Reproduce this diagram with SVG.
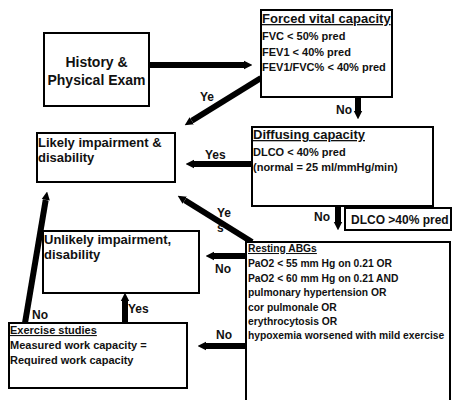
<svg xmlns="http://www.w3.org/2000/svg" width="453" height="400" viewBox="0 0 453 400">
<style>
.box{fill:#fff;stroke:#000;stroke-width:2}
text{font-family:"Liberation Sans",Arial,sans-serif;font-weight:bold;fill:#111}
.t13{font-size:13px}
.t14{font-size:14px}
.t11{font-size:11px}
.t10{font-size:10.3px}
.t12{font-size:12px}
.u{text-decoration:underline}
.lbl{font-size:12px}
.arr{stroke:#000;stroke-width:6;fill:none;marker-end:url(#ah)}
</style>
<defs>
<marker id="ah" viewBox="0 0 10 10" refX="0" refY="5" markerWidth="1.4" markerHeight="1.9" orient="auto" markerUnits="strokeWidth">
<path d="M0,0 L10,5 L0,10 z" fill="#000"/>
</marker>
</defs>
<rect width="453" height="400" fill="#fff"/>
<g id="connectors">
<line class="arr" x1="149" y1="65" x2="244" y2="65"/>
<line class="arr" x1="261" y1="78" x2="191.8" y2="120.8"/>
<line class="arr" x1="358" y1="97" x2="358" y2="111"/>
<line class="arr" x1="252" y1="164" x2="194" y2="164"/>
<line class="arr" x1="338" y1="206" x2="338" y2="222"/>
<line class="arr" x1="252" y1="242" x2="184.8" y2="200.2"/>
<line class="arr" x1="246" y1="256" x2="214" y2="256"/>
<line class="arr" x1="246" y1="346" x2="206" y2="346"/>
<line class="arr" x1="125" y1="323" x2="125" y2="301"/>
<line class="arr" x1="25" y1="323" x2="45.7" y2="199.9"/>
<text class="lbl" x="200" y="101">Ye</text>
<text class="lbl" x="336" y="114">No</text>
<text class="lbl" x="205" y="159">Yes</text>
<text class="lbl" x="314" y="221">No</text>
<text class="lbl" x="217" y="217">Ye</text>
<text class="lbl" x="217" y="232">s</text>
<text class="lbl" x="215" y="273">No</text>
<text class="lbl" x="216" y="339">No</text>
<text class="lbl" x="128" y="313">Yes</text>
<text class="lbl" x="32" y="319">No</text>
</g>
<g id="history">
<rect class="box" x="44" y="33" width="105" height="73"/>
<text class="t14" x="96.5" y="67" text-anchor="middle">History &amp;</text>
<text class="t14" x="96.5" y="85" text-anchor="middle">Physical Exam</text>
</g>
<g id="fvc">
<rect class="box" x="261" y="10" width="131" height="87"/>
<text class="t13 u" x="262" y="23">Forced vital capacity</text>
<text class="t11" x="262" y="40">FVC &lt; 50% pred</text>
<text class="t11" x="262" y="55.5">FEV1 &lt; 40% pred</text>
<text class="t11" x="262" y="71">FEV1/FVC% &lt; 40% pred</text>
</g>
<g id="likely">
<rect class="box" x="37" y="133" width="138" height="49"/>
<text class="t13" x="38" y="147">Likely impairment &amp;</text>
<text class="t13" x="38" y="162">disability</text>
</g>
<g id="diffusing">
<rect class="box" x="252" y="127" width="181" height="79"/>
<text class="t13 u" x="253" y="139">Diffusing capacity</text>
<text class="t11" x="253" y="156">DLCO &lt; 40% pred</text>
<text class="t11" x="253" y="171">(normal = 25 ml/mmHg/min)</text>
</g>
<g id="dlco-high">
<rect class="box" x="345" y="208" width="106" height="22"/>
<text class="t12" x="351" y="224">DLCO &gt;40% pred</text>
</g>
<g id="resting">
<rect class="box" x="246" y="242" width="204" height="170"/>
<text class="t10 u" x="248" y="252">Resting ABGs</text>
<text class="t10" x="248" y="267">PaO2 &lt; 55 mm Hg on 0.21 OR</text>
<text class="t10" x="248" y="281.5">PaO2 &lt; 60 mm Hg on 0.21 AND</text>
<text class="t10" x="248" y="296">pulmonary hypertension OR</text>
<text class="t10" x="248" y="310.5">cor pulmonale OR</text>
<text class="t10" x="248" y="324.5">erythrocytosis OR</text>
<text class="t10" x="248" y="338.5">hypoxemia worsened with mild exercise</text>
</g>
<g id="unlikely">
<rect class="box" x="43" y="231" width="156" height="62"/>
<text class="t13" x="44" y="244">Unlikely impairment,</text>
<text class="t13" x="44" y="259">disability</text>
</g>
<g id="exercise">
<rect class="box" x="9" y="323" width="178" height="65"/>
<text class="t11 u" x="10" y="334">Exercise studies</text>
<text class="t11" x="10" y="349">Measured work capacity =</text>
<text class="t11" x="10" y="364">Required work capacity</text>
</g>
</svg>
